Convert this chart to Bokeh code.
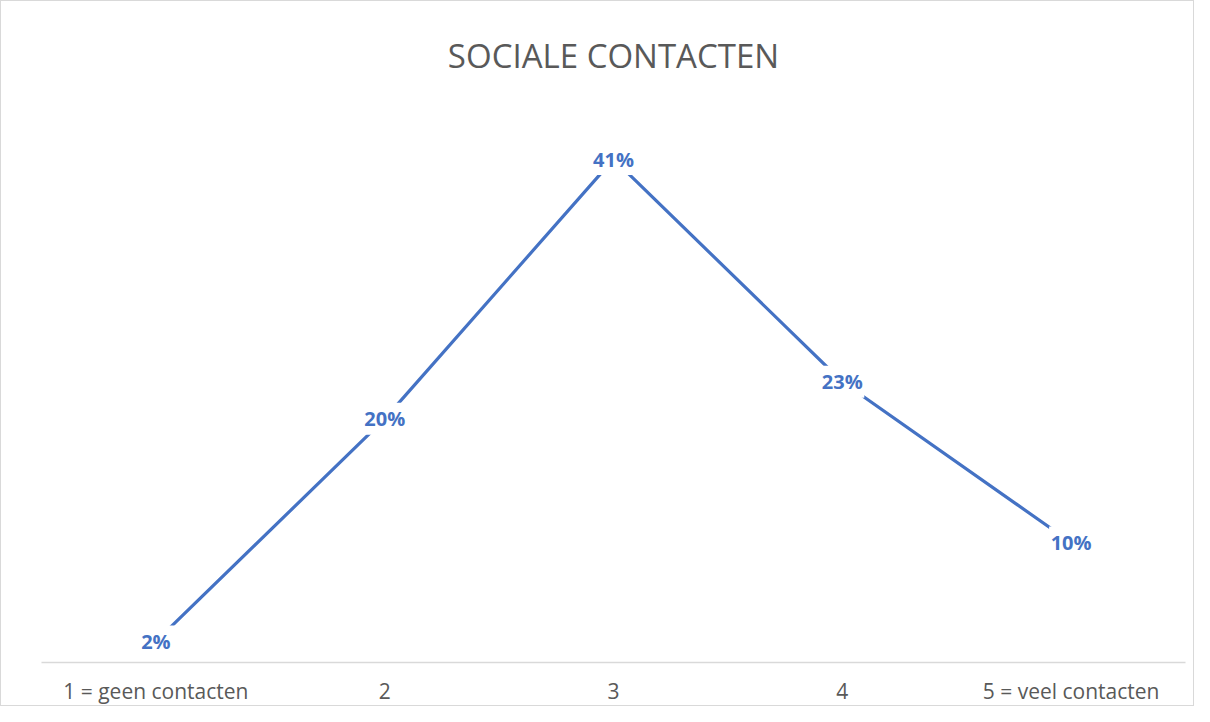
from bokeh.plotting import figure
from bokeh.models import ColumnDataSource, FactorRange, Range1d, Title
from bokeh.core.properties import value
from bokeh.embed import file_html
from bokeh.resources import INLINE

categories = ["1 = geen contacten", "2", "3", "4", "5 = veel contacten"]
values = [2, 20, 41, 23, 10]
labels = ["2%", "20%", "41%", "23%", "10%"]

BLUE = "#4472C4"
GREY = "#595959"

src = ColumnDataSource(dict(cat=categories, val=values, lab=labels))

p = figure(
    x_range=FactorRange(*categories),
    y_range=Range1d(0.30, 45.74),
    width=1194, height=706,
    output_backend="svg", toolbar_location=None,
    min_border_left=40, min_border_right=10,
    min_border_top=99, min_border_bottom=45,
)
t = Title(text="SOCIALE CONTACTEN", align="center", text_font="Open Sans",
          text_font_size="33px", text_font_style="normal", text_color=GREY,
          standoff=45)
p.add_layout(t, "above")

p.line(x="cat", y="val", source=src, line_color=BLUE, line_width=3.2)
p.rect(x="cat", y="val", source=src, width=44, height=32,
       width_units="screen", height_units="screen",
       fill_color="white", line_color=None)
p.text(x="cat", y="val", text="lab", source=src,
       text_font=value("Open Sans"), text_font_size="20px",
       text_font_style="bold", text_color=BLUE,
       text_align="center", text_baseline="middle")

p.xgrid.visible = False
p.ygrid.visible = False
p.yaxis.visible = False
p.outline_line_color = None
p.xaxis.axis_line_color = "#D9D9D9"
p.xaxis.axis_line_width = 1.5
p.xaxis.major_tick_line_color = None
p.xaxis.minor_tick_line_color = None
p.xaxis.major_tick_out = 0
p.xaxis.major_label_text_font = "Open Sans"
p.xaxis.major_label_text_font_size = "21px"
p.xaxis.major_label_text_color = GREY
p.xaxis.major_label_standoff = 14
p.styles = {"border": "1px solid #D9D9D9"}

open("out.html", "w").write(file_html(p, INLINE))
